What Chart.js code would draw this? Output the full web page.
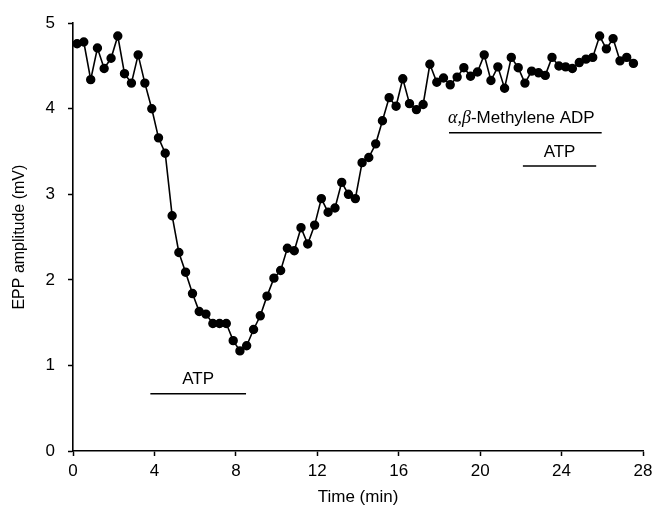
<!DOCTYPE html>
<html>
<head>
<meta charset="utf-8">
<script src="https://cdn.jsdelivr.net/npm/chart.js@4"></script>
<style>
  html, body { margin: 0; padding: 0; background: #fff; }
  #wrap { width: 658px; height: 511px; }
</style>
</head>
<body>
<div id="wrap"><canvas id="eppChart" width="658" height="511"></canvas></div>
<script>
// time of each sweep (min)
const times = [0.2, 0.53, 0.87, 1.2, 1.53, 1.87, 2.2, 2.53, 2.87, 3.2, 3.53, 3.87, 4.2, 4.53, 4.87,
  5.2, 5.53, 5.87, 6.2, 6.53, 6.87, 7.2, 7.53, 7.87, 8.2, 8.53, 8.87, 9.2, 9.53, 9.87,
  10.2, 10.53, 10.87, 11.2, 11.53, 11.87, 12.2, 12.53, 12.87, 13.2, 13.53, 13.87, 14.2, 14.53, 14.87,
  15.2, 15.53, 15.87, 16.2, 16.53, 16.87, 17.2, 17.53, 17.87, 18.2, 18.53, 18.87, 19.2, 19.53, 19.87,
  20.2, 20.53, 20.87, 21.2, 21.53, 21.87, 22.2, 22.53, 22.87, 23.2, 23.53, 23.87, 24.2, 24.53, 24.87,
  25.2, 25.53, 25.87, 26.2, 26.53, 26.87, 27.2, 27.53]

// EPP amplitude (mV)
const eppAmp = [4.76, 4.78, 4.34, 4.71, 4.47, 4.59, 4.85, 4.41, 4.30, 4.63, 4.30, 4.00, 3.66, 3.48, 2.75,
  2.32, 2.09, 1.84, 1.63, 1.60, 1.49, 1.49, 1.49, 1.29, 1.17, 1.23, 1.42, 1.58, 1.81, 2.02,
  2.11, 2.37, 2.34, 2.61, 2.42, 2.64, 2.95, 2.79, 2.84, 3.14, 3.00, 2.95, 3.37, 3.43, 3.59,
  3.86, 4.13, 4.03, 4.35, 4.06, 3.99, 4.05, 4.52, 4.31, 4.36, 4.28, 4.37, 4.48, 4.38, 4.43,
  4.63, 4.33, 4.49, 4.24, 4.60, 4.48, 4.30, 4.44, 4.42, 4.39, 4.60, 4.50, 4.49, 4.47, 4.54,
  4.58, 4.60, 4.85, 4.70, 4.82, 4.56, 4.60, 4.53]

// drug application bars
const drugNames = ['ATP', 'α,β-Methylene ADP', 'ATP']
const drugStart = [3.8, 18.47, 22.1]
const drugEnd = [8.5, 25.97, 25.7]
const drugLevel = [0.67, 3.72, 3.33]

const FONT = 'Liberation Sans, Arial, Helvetica, sans-serif'

const drugBars = {
  id: 'drugBars',
  afterDatasetsDraw(chart) {
    const ctx = chart.ctx
    const xs = chart.scales.x, ys = chart.scales.y
    ctx.save()
    drugNames.forEach((name, i) => {
      const x1 = xs.getPixelForValue(drugStart[i])
      const x2 = xs.getPixelForValue(drugEnd[i])
      const y = ys.getPixelForValue(drugLevel[i])
      ctx.strokeStyle = '#000'
      ctx.lineWidth = 1.5
      ctx.beginPath()
      ctx.moveTo(x1, y)
      ctx.lineTo(x2, y)
      ctx.stroke()

      ctx.fillStyle = '#000'
      ctx.textBaseline = 'middle'
      ctx.textAlign = 'left'
      const cx = (x1 + x2) / 2
      const ty = y - 14
      // greek prefix is set in italics
      if (name.indexOf('-') > 0) {
        const pre = name.slice(0, name.indexOf('-'))
        const rest = name.slice(name.indexOf('-'))
        ctx.font = 'italic 18px "Liberation Serif", serif'
        const w1 = ctx.measureText(pre).width
        ctx.font = '17px ' + FONT
        const w2 = ctx.measureText(rest).width
        let x0 = cx - 4 - (w1 + w2) / 2
        ctx.font = 'italic 18px "Liberation Serif", serif'
        ctx.fillText(pre, x0, ty)
        ctx.font = '17px ' + FONT
        ctx.fillText(rest, x0 + w1, ty)
      } else {
        ctx.font = '17px ' + FONT
        ctx.textAlign = 'center'
        ctx.fillText(name, cx, ty)
      }
    })
    ctx.restore()
  }
}

const ctx = document.getElementById('eppChart').getContext('2d')
const eppChart = new Chart(ctx, {
  type: 'scatter',
  data: {
    datasets: [{
      data: times.map((t, i) => ({ x: t, y: eppAmp[i] })),
      showLine: true,
      borderColor: '#000',
      borderWidth: 1.6,
      backgroundColor: '#000',
      pointRadius: 3.9,
      pointHoverRadius: 3.9,
      tension: 0
    }]
  },
  options: {
    responsive: false,
    animation: false,
    devicePixelRatio: 1,
    layout: { padding: { top: 19, right: 15, left: 0, bottom: 0 } },
    plugins: { legend: { display: false }, tooltip: { enabled: false } },
    scales: {
      x: {
        type: 'linear',
        min: 0, max: 28,
        afterFit: (s) => { s.height = 60 },
        ticks: { stepSize: 4, color: '#000', padding: 5, font: { family: FONT, size: 17 } },
        grid: { drawOnChartArea: false, tickLength: 5, color: '#000', tickWidth: 1.5 },
        border: { color: '#000', width: 1.6 },
        title: { display: true, text: 'Time (min)', color: '#000', font: { family: FONT, size: 17 }, padding: { top: 0, bottom: 3 } }
      },
      y: {
        min: 0, max: 5,
        afterFit: (s) => { s.width = 73 },
        ticks: { stepSize: 1, color: '#000', padding: 13, font: { family: FONT, size: 17 } },
        grid: { drawOnChartArea: false, tickLength: 5, color: '#000', tickWidth: 1.5 },
        border: { color: '#000', width: 1.6 },
        title: { display: true, text: 'EPP amplitude (mV)', color: '#000', font: { family: FONT, size: 16 }, padding: { top: 10, bottom: 0 } }
      }
    }
  },
  plugins: [drugBars]
})
</script>
</body>
</html>
